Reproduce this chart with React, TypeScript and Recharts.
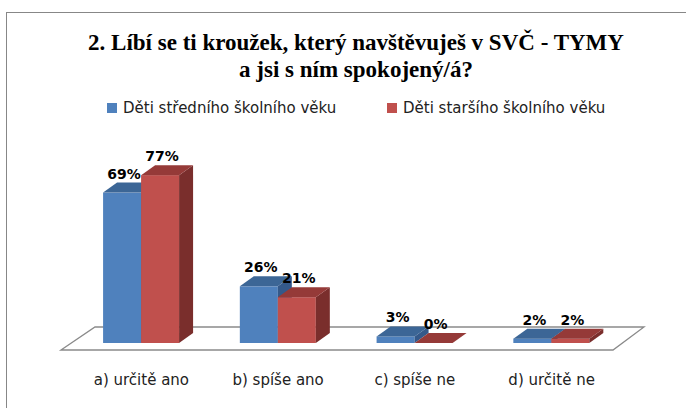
import React from 'react';
import { BarChart, Bar, XAxis, YAxis, LabelList } from 'recharts';

document.body.style.margin = '0';

const categories = ['a) určitě ano', 'b) spíše ano', 'c) spíše ne', 'd) určitě ne'];
const stredniVek = [69, 26, 3, 2];
const starsiVek = [77, 21, 0, 2];
const seriesNames = ['Děti středního školního věku', 'Děti staršího školního věku'];
const titleLines = ['2. Líbí se ti kroužek, který navštěvuješ v SVČ - TYMY', 'a jsi s ním spokojený/á?'];

const data = categories.map((name, i) => ({ name, stredni: stredniVek[i], starsi: starsiVek[i] }));

const W = 686;
const H = 408;
const margin = { top: 125, right: 66, bottom: 25, left: 73 };
const AXIS_H = 40;
const PLOT_BOTTOM = H - margin.bottom - AXIS_H; // 343
const DX = 14; // depth of the 3d bars
const DY = 10;

const BLUE = { front: '#4F81BD', top: '#3C6696', side: '#34598A' };
const RED = { front: '#C0504D', top: '#953A38', side: '#7A2E2C' };
const FONT = '"DejaVu Sans", sans-serif';

const bar3d = (c: typeof BLUE) => (props: any) => {
  const { x, y, width } = props;
  const h = Math.max(props.height || 0, 0);
  const r = x + width;
  return (
    <g>
      <rect x={x} y={y} width={width} height={h} fill={c.front} />
      <polygon points={`${r},${y} ${r + DX},${y - DY} ${r + DX},${y + h - DY} ${r},${y + h}`} fill={c.side} />
      <polygon points={`${x},${y} ${x + DX},${y - DY} ${r + DX},${y - DY} ${r},${y}`} fill={c.top} />
    </g>
  );
};

const ValueLabel = (props: any) => {
  const { x, y, width, value } = props;
  return (
    <text x={x + width / 2 + 2} y={y - 14} textAnchor="middle" fontFamily={FONT} fontWeight="bold" fontSize={14} fill="#000">
      {value}%
    </text>
  );
};

const CatTick = ({ x, payload }: any) => (
  <text x={x} y={PLOT_BOTTOM + 42} textAnchor="middle" fontFamily={FONT} fontSize={15} fill="#222">
    {payload.value}
  </text>
);

// frame, title, legend and the 3d floor sit behind the chart
const Backdrop = () => {
  const left = margin.left;
  const right = W - margin.right;
  const fy = PLOT_BOTTOM + 7;
  const by = PLOT_BOTTOM - 16;
  const legend = [
    { name: seriesNames[0], color: BLUE.front, x: 107 },
    { name: seriesNames[1], color: RED.front, x: 387 },
  ];
  return (
    <svg width={W} height={H} style={{ position: 'absolute', left: 0, top: 0 }}>
      <rect x={6.5} y={12.5} width={W + 20} height={H + 20} fill="#fff" stroke="#878787" />
      {titleLines.map((t, i) => (
        <text key={i} x={356} y={50 + i * 27} textAnchor="middle" fontFamily='"Liberation Serif", serif' fontWeight="bold" fontSize={23} fill="#000">
          {t}
        </text>
      ))}
      {legend.map((l) => (
        <g key={l.name}>
          <rect x={l.x} y={103} width={10} height={10} fill={l.color} />
          <text x={l.x + 16} y={113} fontFamily={FONT} fontSize={15} fill="#222">{l.name}</text>
        </g>
      ))}
      <polygon
        points={`${left - 12},${fy} ${left + 22},${by} ${right + 24},${by} ${right - 7},${fy}`}
        fill="#fff"
        stroke="#8a8a8a"
        strokeWidth={1.3}
      />
    </svg>
  );
};

export default function App() {
  return (
    <div style={{ position: 'relative', width: W, height: H, overflow: 'hidden', background: '#fff' }}>
      <Backdrop />
      <div style={{ position: 'absolute', left: 0, top: 0 }}>
        <BarChart width={W} height={H} data={data} margin={margin} barCategoryGap="22%" barGap={0}>
          <XAxis dataKey="name" axisLine={false} tickLine={false} height={AXIS_H} tick={<CatTick />} interval={0} />
          <YAxis hide domain={[0, 100]} />
          <Bar dataKey="stredni" name={seriesNames[0]} fill={BLUE.front} shape={bar3d(BLUE)} isAnimationActive={false}>
            <LabelList dataKey="stredni" content={<ValueLabel />} />
          </Bar>
          <Bar dataKey="starsi" name={seriesNames[1]} fill={RED.front} shape={bar3d(RED)} isAnimationActive={false}>
            <LabelList dataKey="starsi" content={<ValueLabel />} />
          </Bar>
        </BarChart>
      </div>
    </div>
  );
}
